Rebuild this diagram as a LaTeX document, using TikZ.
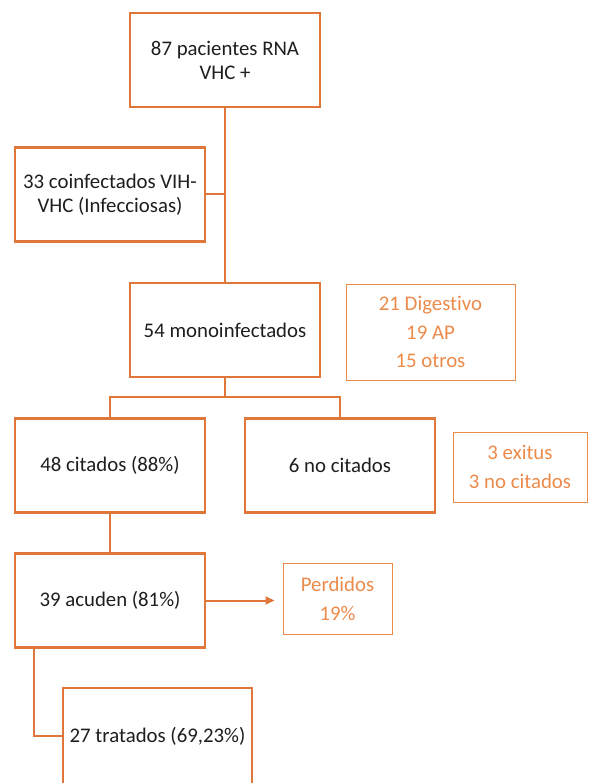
\documentclass[tikz,border=0pt]{standalone}
\usepackage{fontspec}
\setmainfont{Carlito}[Ligatures={NoCommon,NoRare,NoDiscretionary}]
\usetikzlibrary{arrows.meta}
\definecolor{boxor}{HTML}{E0773A}
\definecolor{sideor}{HTML}{EC8A4A}
\definecolor{txt}{HTML}{1E1E1E}
\begin{document}
\begin{tikzpicture}[x=1pt,y=-1pt,
  mainbox/.style={draw=boxor,line width=2.4pt,minimum width=190pt,minimum height=94pt,inner sep=2pt,align=center,text=txt,font=\fontsize{20.8}{24}\selectfont},
  sidebox/.style={draw=sideor,line width=1pt,inner sep=2pt,align=center,text=sideor,font=\fontsize{20.8}{24}\selectfont},
  conn/.style={draw=boxor,line width=2pt}]
\useasboundingbox (0,0) rectangle (589,783);
\node[mainbox] (A) at (225,60) {87 pacientes RNA\\VHC +};
\node[mainbox] (B) at (110,194.5) {33 coinfectados VIH-\\VHC (Infecciosas)};
\node[mainbox] (C) at (225,330) {54 monoinfectados};
\node[sidebox,minimum width=169pt,minimum height=96pt] (S1) at (430.5,332) {21 Digestivo\\[4.5pt]19 AP\\[4.5pt]15 otros};
\node[mainbox] (D) at (110,465.5) {48 citados (88\%)};
\node[mainbox] (E) at (340,465.5) {6 no citados};
\node[sidebox,minimum width=134pt,minimum height=70pt] (S2) at (520,467) {3 exitus\\[5pt]3 no citados};
\node[mainbox] (F) at (110,600.5) {39 acuden (81\%)};
\node[sidebox,minimum width=109pt,minimum height=71pt] (G) at (337.5,598.5) {Perdidos\\[5pt]19\%};
\node[mainbox,minimum width=189pt,minimum height=96pt] (H) at (157.5,736) {27 tratados (69,23\%)};
\coordinate (br) at (225,397);
\draw[conn] (A.south) -- (C.north);
\draw[conn] (B.east) -- (B.east -| A.south);
\draw[conn] (C.south) -- (br);
\draw[conn] (D.north) |- (br) -| (E.north);
\draw[conn,line width=1.6pt] (D.south) -- (F.north);
\draw[conn,-{Triangle[length=9pt,width=8pt]},shorten >=8pt] (F.east) -- (F.east -| G.west);
\draw[conn] ([xshift=-76pt]F.south) |- (H.west);
\end{tikzpicture}
\end{document}
